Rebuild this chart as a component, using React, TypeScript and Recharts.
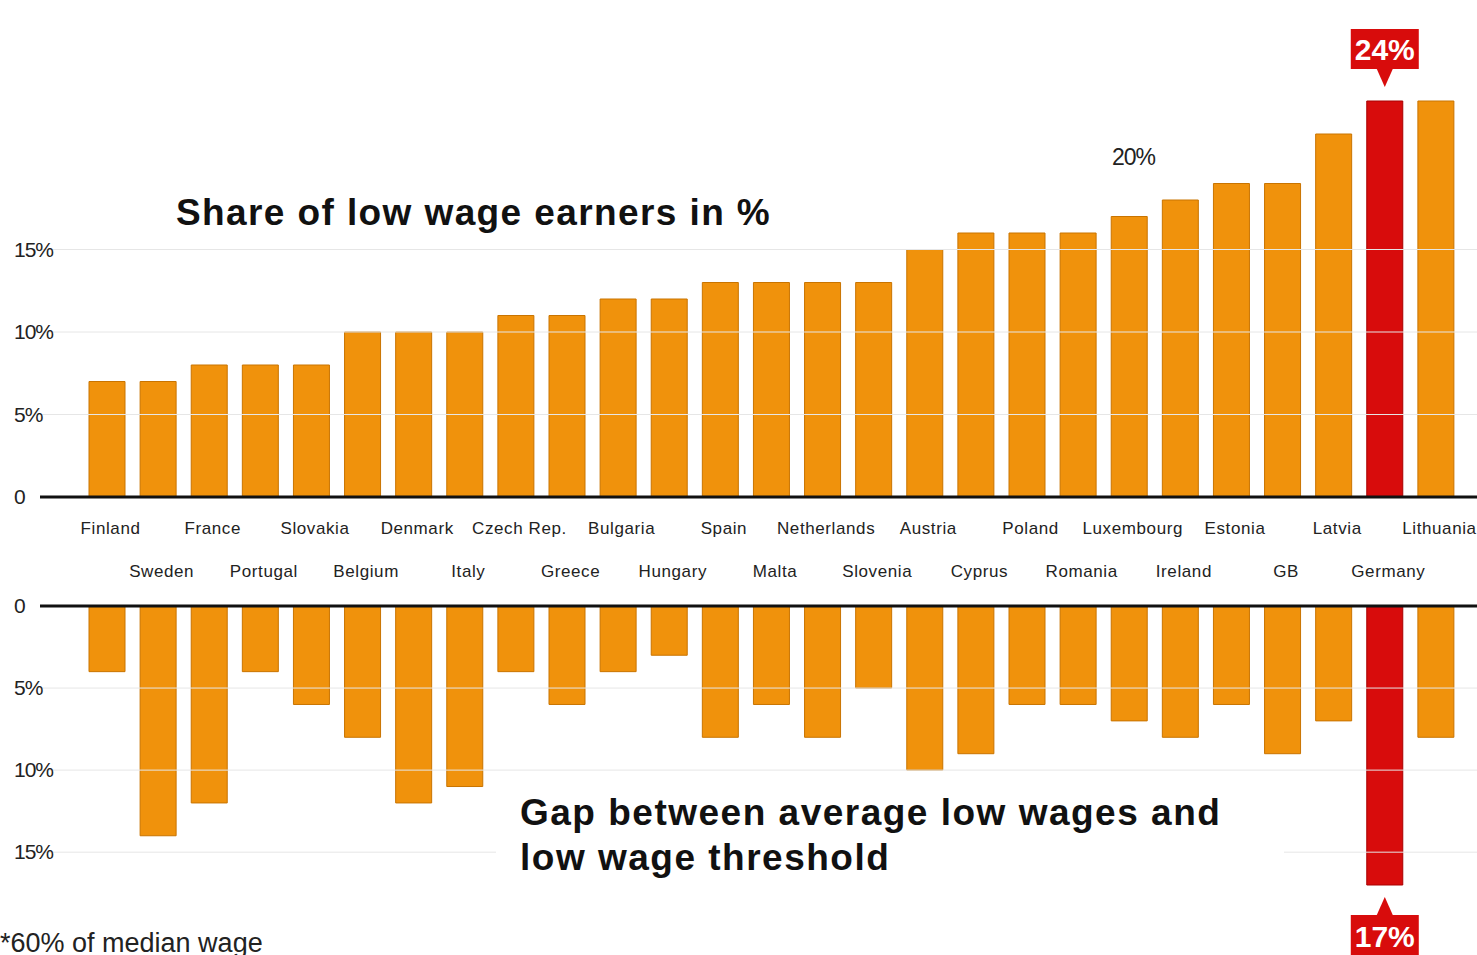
import React from "react";
import { BarChart, Bar, XAxis, YAxis, Cell, LabelList, ReferenceLine } from "recharts";

const countries = [
  "Finland", "Sweden", "France", "Portugal", "Slovakia", "Belgium", "Denmark", "Italy", "Czech Rep.",
  "Greece", "Bulgaria", "Hungary", "Spain", "Malta", "Netherlands", "Slovenia", "Austria", "Cyprus",
  "Poland", "Romania", "Luxembourg", "Ireland", "Estonia", "GB", "Latvia", "Germany", "Lithuania",
];
const shareLowWage = [7, 7, 8, 8, 8, 10, 10, 10, 11, 11, 12, 12, 13, 13, 13, 13, 15, 16, 16, 16, 17, 18, 19, 19, 22, 24, 24];
const wageGap = [4, 14, 12, 4, 6, 8, 12, 11, 4, 6, 4, 3, 8, 6, 8, 5, 10, 9, 6, 6, 7, 8, 6, 9, 7, 17, 8];
const upperTicks = [0, 5, 10, 15];
const lowerTicks = [0, 5, 10, 15];
const gridLines = [5, 10, 15];
const highlight = "Germany";

const data = countries.map((c, i) => ({ country: c, share: shareLowWage[i], gap: wageGap[i] }));

const ORANGE = "#F0920C";
const RED = "#D80C0C";
const FONT = "'Liberation Sans', Arial, sans-serif";

const CountryTick = (props: any) => {
  const { x, y, payload, index } = props;
  return (
    <text x={x + 4} y={y + (index % 2 === 0 ? 29 : 72)} textAnchor="middle" fontSize={17} fill="#222" fontFamily={FONT} letterSpacing={0.6}>
      {payload.value}
    </text>
  );
};

const PctTick = (props: any) => {
  const { y, payload } = props;
  return (
    <text x={14} y={y + 7} textAnchor="start" fontSize={21} fill="#222" fontFamily={FONT} letterSpacing={-1}>
      {payload.value === 0 ? "0" : `${payload.value}%`}
    </text>
  );
};

const Callout = (up: boolean) => (props: any) => {
  const { x, y, width, height, value, index } = props;
  if (countries[index] !== highlight) return null;
  const cx = x + width / 2;
  if (up) {
    const top = Math.min(y, y + height) - 72;
    return (
      <g>
        <rect x={cx - 34} y={top} width={68} height={40} fill={RED} />
        <polygon points={`${cx - 8},${top + 40} ${cx + 8},${top + 40} ${cx},${top + 58}`} fill={RED} />
        <text x={cx} y={top + 31} textAnchor="middle" fill="#fff" fontWeight="bold" fontSize={30} fontFamily={FONT}>{value}%</text>
      </g>
    );
  }
  const top = Math.max(y, y + height) + 30;
  return (
    <g>
      <polygon points={`${cx - 8},${top} ${cx + 8},${top} ${cx},${top - 18}`} fill={RED} />
      <rect x={cx - 34} y={top} width={68} height={40} fill={RED} />
      <text x={cx} y={top + 32} textAnchor="middle" fill="#fff" fontWeight="bold" fontSize={30} fontFamily={FONT}>{value}%</text>
    </g>
  );
};

const cells = () =>
  data.map((d) => (
    <Cell key={d.country} fill={d.country === highlight ? RED : ORANGE} stroke={d.country === highlight ? "#a00" : "#c97400"} />
  ));

export default function App() {
  return (
    <div style={{ position: "absolute", left: 0, top: 0, width: 1477, height: 955, background: "#fff", overflow: "hidden", fontFamily: FONT }}>
      <div style={{ position: "absolute", top: 0, left: 0 }}>
        <BarChart width={1477} height={610} data={data} margin={{ top: 101, right: 0, bottom: 3, left: 0 }} barCategoryGap={15}>
          {gridLines.map((g) => <ReferenceLine key={g} y={g} stroke="#e6e6e6" />)}
          <XAxis dataKey="country" interval={0} tick={<CountryTick />} tickLine={false} axisLine={{ stroke: "#111", strokeWidth: 3 }} padding={{ left: 41, right: 16 }} height={110} />
          <YAxis domain={[0, 24]} ticks={upperTicks} interval={0} tick={<PctTick />} axisLine={false} tickLine={false} width={40} />
          <Bar dataKey="share" barSize={36} isAnimationActive={false}>
            {cells()}
            <LabelList dataKey="share" content={Callout(true)} />
          </Bar>
        </BarChart>
      </div>
      <div style={{ position: "absolute", top: 590, left: 0 }}>
        <BarChart width={1477} height={365} data={data} margin={{ top: 16, right: 0, bottom: 70, left: 0 }} barCategoryGap={15}>
          {gridLines.map((g) => <ReferenceLine key={g} y={g} stroke="#e6e6e6" />)}
          <XAxis dataKey="country" hide padding={{ left: 41, right: 16 }} />
          <YAxis domain={[0, 17]} reversed ticks={lowerTicks} interval={0} tick={<PctTick />} axisLine={false} tickLine={false} width={40} />
          <ReferenceLine y={0} stroke="#111" strokeWidth={3} />
          <Bar dataKey="gap" barSize={36} isAnimationActive={false}>
            {cells()}
            <LabelList dataKey="gap" content={Callout(false)} />
          </Bar>
        </BarChart>
      </div>
      <div style={{ position: "absolute", left: 176, top: 192, fontSize: 37, fontWeight: "bold", color: "#111", letterSpacing: 1.4 }}>Share of low wage earners in %</div>
      <div style={{ position: "absolute", left: 1112, top: 144, fontSize: 23, color: "#222", background: "#fff", letterSpacing: -1 }}>20%</div>
      <div style={{ position: "absolute", left: 496, top: 790, padding: "0 24px", background: "#fff", fontSize: 37, fontWeight: "bold", color: "#111", lineHeight: "45px", width: 740, letterSpacing: 1.5 }}>
        Gap between average low wages and<br />low wage threshold
      </div>
      <div style={{ position: "absolute", left: 0, top: 928, fontSize: 27, color: "#222" }}>*60% of median wage</div>
    </div>
  );
}
